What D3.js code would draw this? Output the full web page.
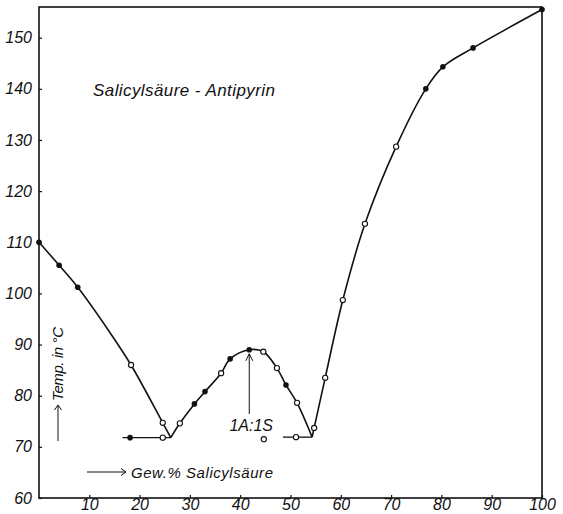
<!DOCTYPE html>
<html><head><meta charset="utf-8">
<script src="https://cdn.jsdelivr.net/npm/d3@7"></script>
<style>
body{margin:0;background:#fff;}
text{font-family:"Liberation Sans",Arial,sans-serif;font-style:italic;fill:#111;}
</style></head>
<body><svg id="c" width="563" height="514"></svg>
<script>
// ---- data ----
const xTicks = [10,20,30,40,50,60,70,80,90,100];
const yTicks = [60,70,80,90,100,110,120,130,140,150];
// liquidus branches (x = Gew.% Salicylsäure, y = Temp °C)
const branchAntipyrin = [[0,110],[4,105.5],[7.7,101.2],[14,92.5],[18.3,86],[24.6,74.7],[26.2,71.8]];
const branchCompound = [[26.2,71.8],[28,74.6],[30.9,78.4],[33,80.8],[36.2,84.4],[38,87.2],[41.8,89],[44.6,88.6],[47.3,85.4],[49.1,82.1],[51.3,78.6],[54.3,71.9]];
const branchSalicyl = [[54.3,71.9],[54.7,73.7],[56.9,83.5],[60.4,98.7],[64.8,113.6],[71,128.7],[76.9,140],[80.3,144.3],[86.3,148],[100,155.5]];
const eutectic1 = [[16.6,71.8],[26.2,71.8]];
const eutectic2 = [[48.5,71.9],[54.3,71.9]];
// measured points
const filledPts = [[0,110],[4,105.5],[7.7,101.2],[18.1,71.8],[30.9,78.4],[33,80.8],[38,87.2],[41.8,89],[49.1,82.1],[76.9,140],[80.3,144.3],[86.3,148],[100,155.5]];
const openPts = [[18.3,86],[24.6,74.7],[24.6,71.8],[28,74.6],[36.2,84.4],[44.6,88.6],[47.3,85.4],[51.3,78.6],[51.1,71.9],[44.7,71.5],[54.7,73.7],[56.9,83.5],[60.4,98.7],[64.8,113.6],[71,128.7]];
const compoundLabel = "1A:1S";
const compoundX = 41.8;

const svg = d3.select("#c");
const x = d3.scaleLinear().domain([0,100]).range([39,542]);
const y = d3.scaleLinear().domain([60,156]).range([498,7]);

// frame
svg.append("rect").attr("x",x(0)).attr("y",y(156)).attr("width",x(100)-x(0)).attr("height",y(60)-y(156))
  .attr("fill","none").attr("stroke","#111").attr("stroke-width",1.6);

// axes
const xAxis = d3.axisBottom(x).tickValues(xTicks).tickSize(-3).tickPadding(4).tickFormat(d3.format("d"));
const gx = svg.append("g").attr("transform",`translate(0,${y(60)})`).call(xAxis);
gx.select(".domain").remove();
gx.selectAll("line").attr("stroke","#111").attr("stroke-width",1.2);
gx.selectAll("text").attr("font-size",16).attr("dy","0.5em").attr("fill","#111").style("font-style","italic");

const yAxis = d3.axisLeft(y).tickValues(yTicks).tickSize(-3).tickPadding(7).tickFormat(d3.format("d"));
const gy = svg.append("g").attr("transform",`translate(${x(0)},0)`).call(yAxis);
gy.select(".domain").remove();
gy.selectAll("line").attr("stroke","#111").attr("stroke-width",1.2);
gy.selectAll("text").attr("font-size",16).attr("fill","#111").style("font-style","italic");

// curves
const line = d3.line().x(d=>x(d[0])).y(d=>y(d[1])).curve(d3.curveCatmullRom.alpha(0.5));
const straight = d3.line().x(d=>x(d[0])).y(d=>y(d[1]));
[branchAntipyrin,branchCompound,branchSalicyl].forEach(b=>{
  svg.append("path").attr("d",line(b)).attr("fill","none").attr("stroke","#111").attr("stroke-width",1.6);
});
[eutectic1,eutectic2].forEach(b=>{
  svg.append("path").attr("d",straight(b)).attr("fill","none").attr("stroke","#111").attr("stroke-width",1.3);
});

// markers
svg.selectAll(".f").data(filledPts).enter().append("circle")
  .attr("cx",d=>x(d[0])).attr("cy",d=>y(d[1])).attr("r",2.8).attr("fill","#111");
svg.selectAll(".o").data(openPts).enter().append("circle")
  .attr("cx",d=>x(d[0])).attr("cy",d=>y(d[1])).attr("r",2.6).attr("fill","#fff").attr("stroke","#111").attr("stroke-width",1.1);

// title
svg.append("text").attr("x",93).attr("y",96).attr("font-size",17).attr("textLength",182).text("Salicylsäure - Antipyrin");

// compound annotation: arrow from label up to maximum
const ax = x(compoundX);
const arTop = y(88.2), arBot = 414;
svg.append("line").attr("x1",ax).attr("x2",ax).attr("y1",arBot).attr("y2",arTop).attr("stroke","#111").attr("stroke-width",1);
svg.append("path").attr("d",`M${ax-3.5},${arTop+7} L${ax},${arTop} L${ax+3.5},${arTop+7}`).attr("fill","none").attr("stroke","#111").attr("stroke-width",1);
svg.append("text").attr("x",ax+2).attr("y",431).attr("text-anchor","middle").attr("font-size",16).text(compoundLabel);

// y-axis title with arrow
const tx = 63;
svg.append("text").attr("transform",`translate(${tx},401) rotate(-90)`).attr("font-size",15).attr("textLength",74).text("Temp. in °C");
svg.append("line").attr("x1",tx-5).attr("x2",tx-5).attr("y1",441).attr("y2",405).attr("stroke","#111").attr("stroke-width",1);
svg.append("path").attr("d",`M${tx-8.5},410 L${tx-5},405 L${tx-1.5},410`).attr("fill","none").attr("stroke","#111").attr("stroke-width",1);

// x-axis title with arrow
const ty = 472;
svg.append("line").attr("x1",87).attr("x2",126).attr("y1",ty).attr("y2",ty).attr("stroke","#111").attr("stroke-width",1);
svg.append("path").attr("d",`M121,${ty-3.5} L126,${ty} L121,${ty+3.5}`).attr("fill","none").attr("stroke","#111").attr("stroke-width",1);
svg.append("text").attr("x",131).attr("y",ty+5.5).attr("font-size",15).attr("textLength",142).text("Gew.% Salicylsäure");
</script></body></html>
